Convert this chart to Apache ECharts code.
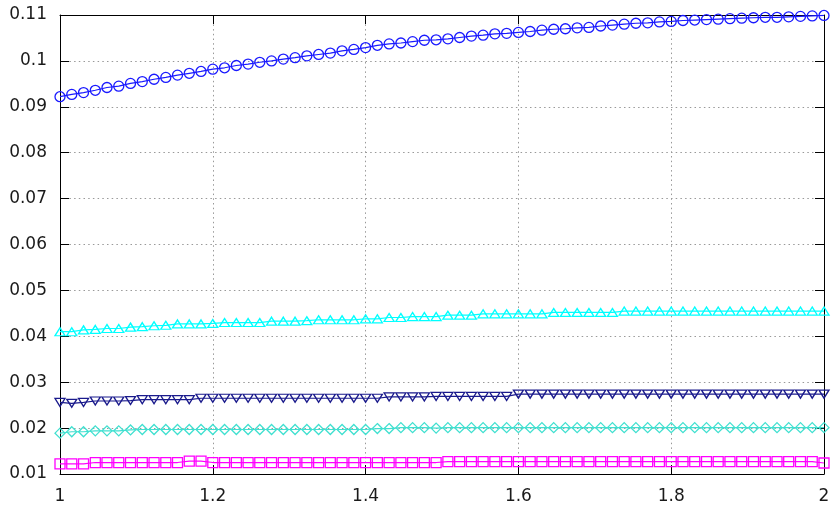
<!DOCTYPE html>
<html>
<head>
<meta charset="utf-8">
<script src="https://cdn.jsdelivr.net/npm/echarts@6/dist/echarts.min.js"></script>
<style>
    html, body { margin: 0; padding: 0; background: #fff; }
    #main { width: 833px; height: 506px; }
</style>
</head>
<body>
<div id="main"></div>
<script>
// x positions (66 samples between 1 and 2)
var xs = [1, 1.0154, 1.0308, 1.0462, 1.0615, 1.0769, 1.0923, 1.1077, 1.1231, 1.1385, 1.1538, 1.1692, 1.1846,
    1.2, 1.2154, 1.2308, 1.2462, 1.2615, 1.2769, 1.2923, 1.3077, 1.3231, 1.3385, 1.3538, 1.3692, 1.3846,
    1.4, 1.4154, 1.4308, 1.4462, 1.4615, 1.4769, 1.4923, 1.5077, 1.5231, 1.5385, 1.5538, 1.5692, 1.5846,
    1.6, 1.6154, 1.6308, 1.6462, 1.6615, 1.6769, 1.6923, 1.7077, 1.7231, 1.7385, 1.7538, 1.7692, 1.7846,
    1.8, 1.8154, 1.8308, 1.8462, 1.8615, 1.8769, 1.8923, 1.9077, 1.9231, 1.9385, 1.9538, 1.9692, 1.9846, 2];

var blueCircle = [0.0922, 0.0927, 0.0931, 0.0936, 0.0942, 0.0945, 0.0951, 0.0955, 0.0960, 0.0964, 0.0969, 0.0973,
    0.0977, 0.0982, 0.0985, 0.0990, 0.0993, 0.0997, 0.1000, 0.1004, 0.1007, 0.1011, 0.1014, 0.1017,
    0.1022, 0.1025, 0.1029, 0.1034, 0.1037, 0.1039, 0.1042, 0.1045, 0.1046, 0.1048, 0.1051, 0.1054,
    0.1056, 0.1059, 0.1060, 0.1062, 0.1064, 0.1067, 0.1069, 0.1070, 0.1072, 0.1073, 0.1076,
    0.1078, 0.1080, 0.1082, 0.1083, 0.1085, 0.1086, 0.1088, 0.1089, 0.1090, 0.1091, 0.1092, 0.1093,
    0.1094, 0.1095, 0.1095, 0.1096, 0.1097, 0.1098, 0.1099];

var cyanTri = [0.0410, 0.0410, 0.0414, 0.0415, 0.0417, 0.0417, 0.0420, 0.0421, 0.0423, 0.0424, 0.0427, 0.0427,
    0.0427, 0.0428, 0.0430, 0.0430, 0.0430, 0.0430, 0.0433, 0.0433, 0.0433, 0.0434, 0.0436, 0.0436,
    0.0436, 0.0436, 0.0438, 0.0438, 0.0441, 0.0441, 0.0443, 0.0443, 0.0443, 0.0446, 0.0446, 0.0446,
    0.0449, 0.0449, 0.0449, 0.0449, 0.0449, 0.0449, 0.0452, 0.0452, 0.0452, 0.0452, 0.0452, 0.0452,
    0.0455, 0.0455, 0.0455, 0.0455, 0.0455, 0.0455, 0.0455, 0.0455, 0.0455, 0.0455, 0.0455, 0.0455,
    0.0455, 0.0455, 0.0455, 0.0455, 0.0455, 0.0455];

var navyTri = [0.0256, 0.0254, 0.0256, 0.0259, 0.0259, 0.0259, 0.0260, 0.0262, 0.0262, 0.0262, 0.0262, 0.0262,
    0.0265, 0.0265, 0.0265, 0.0265, 0.0265, 0.0265, 0.0265, 0.0265, 0.0265, 0.0265, 0.0265, 0.0265,
    0.0265, 0.0265, 0.0265, 0.0265, 0.0268, 0.0268, 0.0268, 0.0268, 0.0269, 0.0269, 0.0269, 0.0269,
    0.0269, 0.0269, 0.0269, 0.0274, 0.0274, 0.0274, 0.0274, 0.0274, 0.0274, 0.0274, 0.0274, 0.0274,
    0.0274, 0.0274, 0.0274, 0.0274, 0.0274, 0.0274, 0.0274, 0.0274, 0.0274, 0.0274, 0.0274, 0.0274,
    0.0274, 0.0274, 0.0274, 0.0274, 0.0274, 0.0274];

var turqDiamond = [0.0189, 0.0192, 0.0192, 0.0194, 0.0194, 0.0194, 0.0196, 0.0197, 0.0197, 0.0197, 0.0197, 0.0197,
    0.0197, 0.0197, 0.0197, 0.0197, 0.0197, 0.0197, 0.0197, 0.0197, 0.0197, 0.0197, 0.0197, 0.0197,
    0.0197, 0.0197, 0.0197, 0.0199, 0.0199, 0.0201, 0.0201, 0.0201, 0.0200, 0.0201, 0.0201, 0.0201,
    0.0201, 0.0201, 0.0201, 0.0201, 0.0201, 0.0201, 0.0201, 0.0201, 0.0201, 0.0201, 0.0201, 0.0201,
    0.0201, 0.0201, 0.0201, 0.0201, 0.0201, 0.0201, 0.0201, 0.0201, 0.0201, 0.0201, 0.0201, 0.0201,
    0.0201, 0.0201, 0.0201, 0.0201, 0.0201, 0.0201];

var magentaSquare = [0.0122, 0.0122, 0.0122, 0.0125, 0.0125, 0.0125, 0.0125, 0.0125, 0.0125, 0.0125, 0.0125, 0.0128,
    0.0128, 0.0125, 0.0125, 0.0125, 0.0125, 0.0125, 0.0125, 0.0125, 0.0125, 0.0125, 0.0125, 0.0125,
    0.0125, 0.0125, 0.0125, 0.0125, 0.0125, 0.0125, 0.0125, 0.0125, 0.0125, 0.0127, 0.0127, 0.0127,
    0.0127, 0.0127, 0.0127, 0.0127, 0.0127, 0.0127, 0.0127, 0.0127, 0.0127, 0.0127, 0.0127, 0.0127,
    0.0127, 0.0127, 0.0127, 0.0127, 0.0127, 0.0127, 0.0127, 0.0127, 0.0127, 0.0127, 0.0127, 0.0127,
    0.0127, 0.0127, 0.0127, 0.0127, 0.0127, 0.0124];

var xTicks = {min: 1, max: 2, step: 0.2};
var yTicks = {min: 0.01, max: 0.11, step: 0.01};

function makeSeries(name, ys, color, symbol, size, rotate) {
    var data = [];
    for (var i = 0; i < xs.length; i++) {
        data.push([xs[i], ys[i]]);
    }
    return {
        name: name,
        type: 'line',
        data: data,
        symbol: symbol,
        symbolSize: size,
        symbolRotate: rotate || 0,
        showAllSymbol: true,
        lineStyle: {color: color, width: 1.2},
        itemStyle: {color: 'transparent', borderColor: color, borderWidth: 1.3},
        emphasis: {disabled: true},
        z: 3
    };
}

var dom = document.getElementById('main');
var myChart = echarts.init(dom, null, {renderer: 'canvas'});

var labelFont = {fontFamily: 'DejaVu Sans', fontSize: 17, color: '#1a1a1a'};
var border = {show: true, onZero: false, lineStyle: {color: '#000', width: 1}};
var tick = {show: true, inside: true, length: 9, lineStyle: {color: '#000', width: 1}};
var grid = {show: true, lineStyle: {color: '#999', width: 1, type: [1.5, 3.2]}};

var option = {
    animation: false,
    backgroundColor: '#fff',
    grid: {left: 60, right: 9, top: 15, bottom: 32},
    xAxis: [
        {
            type: 'value', position: 'bottom',
            min: xTicks.min, max: xTicks.max, interval: xTicks.step,
            axisLine: border, axisTick: tick, splitLine: grid,
            axisLabel: Object.assign({margin: 14, formatter: function (v) { return String(+v.toFixed(1)); }}, labelFont)
        },
        {
            type: 'value', position: 'top',
            min: xTicks.min, max: xTicks.max, interval: xTicks.step,
            axisLine: border, axisTick: tick, splitLine: {show: false},
            axisLabel: {show: false}
        }
    ],
    yAxis: [
        {
            type: 'value', position: 'left',
            min: yTicks.min, max: yTicks.max, interval: yTicks.step,
            axisLine: border, axisTick: tick, splitLine: grid,
            axisLabel: Object.assign({margin: 13, formatter: function (v) { return String(+v.toFixed(2)); }}, labelFont)
        },
        {
            type: 'value', position: 'right',
            min: yTicks.min, max: yTicks.max, interval: yTicks.step,
            axisLine: border, axisTick: tick, splitLine: {show: false},
            axisLabel: {show: false}
        }
    ],
    series: [
        makeSeries('blue', blueCircle, '#1a1aff', 'circle', 10),
        makeSeries('cyan', cyanTri, '#00ffff', 'triangle', [10, 8]),
        makeSeries('navy', navyTri, '#1a1a8c', 'triangle', [10, 8], 180),
        makeSeries('turquoise', turqDiamond, '#40e0d0', 'diamond', [10, 10]),
        makeSeries('magenta', magentaSquare, '#ff00ff', 'rect', [10, 10])
    ]
};

myChart.setOption(option);
</script>
</body>
</html>
